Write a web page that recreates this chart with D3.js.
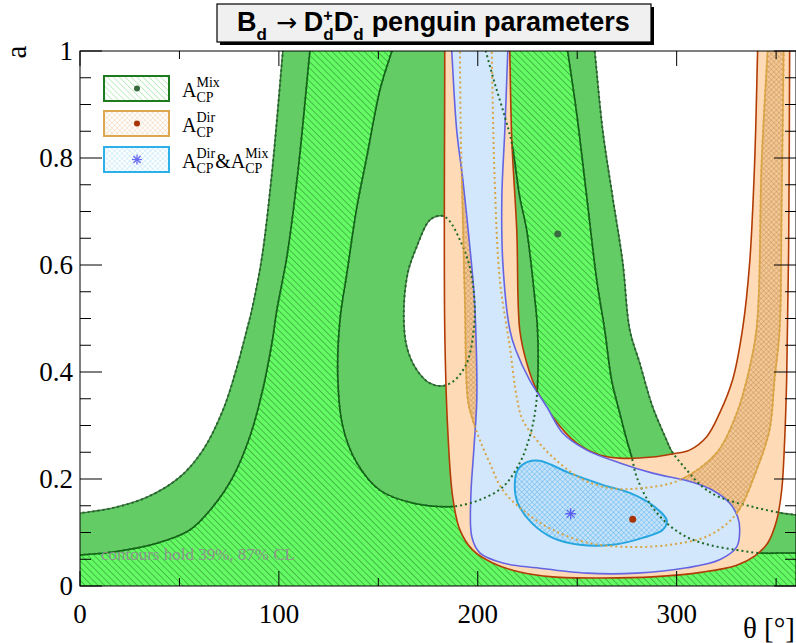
<!DOCTYPE html>
<html>
<head>
<meta charset="utf-8">
<script src="https://cdn.jsdelivr.net/npm/d3@7"></script>
<style>
  body { margin: 0; background: #fff; }
  svg { display: block; }
</style>
</head>
<body>
<div id="chart"></div>
<script>
// ---------- data (theta in degrees, a) ----------

// A_CP^Mix, outer (87%) contour pieces: white region at the left, the hole, white region at the right
var mixOuterLeft = [[102,1],[96.5,0.772],[91.5,0.615],[86.4,0.516],[83.9,0.479],[78.9,0.409],[71.9,0.329],[61.8,0.254],[50.3,0.204],[33.7,0.166],[16.6,0.146],[0,0.136]]
var mixOuterHole = [[181.9,0.692],[175.9,0.684],[169.3,0.634],[164.8,0.585],[162.8,0.510],[164.3,0.447],[169.3,0.404],[175.9,0.379],[182.4,0.374],[188.5,0.385],[194.5,0.417],[197.5,0.465],[198.5,0.521],[196.0,0.596],[191.0,0.647],[185.4,0.684]]
var mixOuterRight = [[258.8,1],[262.8,0.852],[267.8,0.727],[272.9,0.604],[276.4,0.479],[281.4,0.417],[287.9,0.335],[294.9,0.273],[297.5,0.252],[305.0,0.217],[313.1,0.185],[321.6,0.166],[338.2,0.148],[353.3,0.136],[360,0.133]]

// A_CP^Mix, inner (39%) contour pieces
var mixInnerA = [[0,0.058],[16.6,0.0636],[38.7,0.080],[55.3,0.105],[66.8,0.148],[76.9,0.204],[85.4,0.279],[91.5,0.361],[96.5,0.454],[99.0,0.516],[104.0,0.615],[109.5,0.772],[115.6,1]]
var mixInnerB = [[156.8,1],[150.8,0.927],[144.2,0.802],[139.2,0.708],[134.2,0.585],[130.7,0.497],[129.6,0.391],[132.2,0.297],[139.2,0.230],[150.8,0.179],[167.3,0.155],[184.4,0.148],[190.5,0.150],[201.0,0.161],[212.6,0.185],[221.1,0.230],[226.1,0.279],[229.0,0.330],[230.2,0.390],[230.0,0.482],[228.6,0.540],[224.6,0.665],[221.1,0.727],[217.1,0.828],[213.6,0.877],[208.5,0.940],[204.0,1]]
var mixInnerC = [[245.2,1],[249.7,0.884],[254.8,0.727],[259.8,0.572],[263.8,0.479],[267.3,0.385],[271.4,0.323],[274.9,0.273],[277.4,0.241],[279.9,0.204],[286.4,0.155],[294.9,0.118],[305.0,0.0916],[316.6,0.0766],[330.2,0.0673],[341.7,0.0617],[354.3,0.0617],[360,0.0617]]

// A_CP^Dir, outer (87%) contour: outer side and inner side of the U
var dirOuterA = [[183.4,1],[183.4,0.479],[184.9,0.292],[187.4,0.166],[191.0,0.105],[197.5,0.067],[207.5,0.043],[221.1,0.026],[237.7,0.017],[262.8,0.015],[287.9,0.017],[313.1,0.026],[330.2,0.039],[339.2,0.056],[345.7,0.080],[350.3,0.123],[352.8,0.179],[354.3,0.273],[355.3,0.385],[356.3,0.628],[356.8,1]]
var dirOuterB = [[340.7,1],[339.2,0.791],[336.7,0.604],[333.2,0.482],[328.1,0.385],[321.6,0.323],[315.1,0.279],[306.5,0.254],[298.0,0.247],[287.9,0.241],[271.4,0.239],[261.3,0.245],[249.7,0.267],[237.7,0.316],[229.6,0.366],[224.6,0.417],[221.1,0.479],[219.6,0.665],[217.1,0.834],[216.1,1]]

// A_CP^Dir, inner (39%) contour
var dirInnerA = [[191.0,1],[191.5,0.834],[192.0,0.759],[193.5,0.535],[195.0,0.348],[197.5,0.310],[201.0,0.273],[206.0,0.230],[212.6,0.179],[224.6,0.136],[237.7,0.105],[256.3,0.080],[276.4,0.073],[296.5,0.077],[316.6,0.095],[330.2,0.136],[340.2,0.217],[346.7,0.292],[349.2,0.385],[351.8,0.482],[352.8,0.720],[353.8,1]]
var dirInnerB = [[345.7,1],[342.7,0.791],[340.2,0.482],[335.2,0.385],[330.2,0.323],[320.1,0.249],[301.5,0.198],[282.9,0.183],[266.3,0.183],[251.3,0.202],[237.7,0.241],[229.6,0.273],[222.6,0.310],[219.6,0.353],[216.1,0.447],[211.1,0.572],[208.5,0.759],[207.0,1]]

// A_CP^Dir & A_CP^Mix combined
var bothOuter = [[186.9,1],[189.4,0.852],[192.5,0.759],[196.0,0.634],[198.0,0.553],[199.0,0.479],[199.5,0.348],[198.0,0.254],[196.5,0.166],[197.0,0.092],[201.0,0.062],[212.6,0.043],[229.6,0.034],[254.8,0.024],[279.9,0.024],[305.0,0.034],[321.6,0.049],[330.2,0.073],[331.7,0.105],[330.7,0.129],[326.6,0.155],[318.1,0.179],[308.0,0.194],[287.9,0.211],[271.4,0.230],[254.8,0.254],[242.7,0.286],[234.7,0.335],[226.1,0.385],[219.1,0.441],[216.1,0.479],[212.6,0.604],[212.1,0.727],[213.6,0.852],[215.1,1]]
var bothInner = [[225.1,0.232],[231.2,0.234],[246.2,0.211],[262.8,0.189],[276.4,0.174],[287.9,0.151],[295.0,0.123],[293.0,0.105],[282.9,0.090],[267.8,0.077],[251.3,0.077],[237.7,0.090],[227.1,0.118],[220.1,0.155],[218.6,0.189],[220.1,0.217]]

// best fit points
var mixBest = [240.2, 0.658]
var dirBest = [277.9, 0.125]
var bothBest = [246.7, 0.135]

// axes
var xMajor = [0, 100, 200, 300]
var xMinor = [50, 150, 250, 350]
var yMajor = [0, 0.2, 0.4, 0.6, 0.8, 1]
var yMajorLabels = ["0", "0.2", "0.4", "0.6", "0.8", "1"]
var yMinor = [0.05,0.1,0.15,0.25,0.3,0.35,0.45,0.5,0.55,0.65,0.7,0.75,0.85,0.9,0.95]

// ---------- layout ----------
// (note: "top" is taken by window.top, so the frame edges get their own names)
var width = 796, height = 643
var frameL = 80, frameR = 796, frameT = 51, frameB = 586
var serif = "'Liberation Serif', 'DejaVu Serif', serif"
var sans = "'Liberation Sans', Arial, sans-serif"

var x = d3.scaleLinear().domain([0, 360]).range([frameL, frameR])
var y = d3.scaleLinear().domain([0, 1]).range([frameB, frameT])

var svg = d3.select("#chart").append("svg")
  .attr("width", width)
  .attr("height", height)

var defs = svg.append("defs")

defs.append("clipPath").attr("id", "frameClip")
  .append("rect")
  .attr("x", frameL).attr("y", frameT)
  .attr("width", frameR - frameL).attr("height", frameB - frameT)

// hatch patterns: single "\\" lines or a cross-hatch
function makePattern(id, bg, color, size, sw, cross){
  var p = defs.append("pattern")
    .attr("id", id)
    .attr("patternUnits", "userSpaceOnUse")
    .attr("width", size).attr("height", size)
    .attr("patternTransform", cross ? "rotate(45)" : "rotate(-45)")
  p.append("rect").attr("width", size).attr("height", size).attr("fill", bg)
  p.append("line").attr("x1", 0).attr("y1", 0).attr("x2", 0).attr("y2", size)
    .attr("stroke", color).attr("stroke-width", sw)
  if (cross){
    p.append("line").attr("x1", 0).attr("y1", 0).attr("x2", size).attr("y2", 0)
      .attr("stroke", color).attr("stroke-width", sw)
  }
}
makePattern("hatchMix", "#64fa64", "#237023", 4.6, 0.9, false)
makePattern("hatchDir", "#f2c896", "#c38a4a", 3.6, 0.8, true)
makePattern("hatchBoth", "#c7e3fa", "#58b4ee", 3.6, 0.9, true)
// lighter versions for the legend
makePattern("legMix", "#ffffff", "#8fe08f", 4.2, 1, false)
makePattern("legDir", "#ffffff", "#ecc9a0", 3.6, 0.8, true)
makePattern("legBoth", "#ffffff", "#a6dcf7", 3.6, 0.8, true)

var curve = d3.curveCatmullRom.alpha(0.5)
var line = d3.line().x(function(d){ return x(d[0]) }).y(function(d){ return y(d[1]) }).curve(curve)
var closedLine = d3.line().x(function(d){ return x(d[0]) }).y(function(d){ return y(d[1]) }).curve(d3.curveCatmullRomClosed.alpha(0.5))
var straight = d3.line().x(function(d){ return x(d[0]) }).y(function(d){ return y(d[1]) })

// a contour that ends on the frame is pushed a bit past it, along its own
// direction, so the curve keeps its shape up to the edge (the clip cuts the rest)
function ext(c){
  var n = c.length
  var a = c[0], b = c[1], p = c[n-1], q = c[n-2]
  return [[a[0] + (a[0]-b[0])*0.5, a[1] + (a[1]-b[1])*0.5]]
    .concat(c, [[p[0] + (p[0]-q[0])*0.5, p[1] + (p[1]-q[1])*0.5]])
}

// closes a list of contour pieces (plus corner points outside the frame) into one area
function area(pieces){
  var pts = []
  pieces.forEach(function(p){
    p.forEach(function(d){ pts.push(d) })
  })
  return closedLine(pts)
}

var plot = svg.append("g").attr("clip-path", "url(#frameClip)")

// ---------- A_CP^Mix ----------
// 87% region: whole frame minus the white parts
var mixOuterPath = straight([[-10,-0.2],[370,-0.2],[370,1.2],[-10,1.2]]) + "Z" +
  area([ext(mixOuterLeft), [[-10,1.2]]]) +
  closedLine(mixOuterHole) +
  area([ext(mixOuterRight), [[370,1.2]]])

plot.append("path")
  .attr("d", mixOuterPath)
  .attr("fill-rule", "evenodd")
  .style("fill", "#64cc64")

// 39% region
plot.append("path")
  .attr("d", area([ext(mixInnerA), ext(mixInnerB), ext(mixInnerC), [[370,-0.2],[-10,-0.2]]]))
  .style("fill", "url(#hatchMix)")

// solid contour lines
;[mixOuterLeft, mixOuterRight].forEach(function(c){
  plot.append("path").attr("d", line(ext(c)))
    .style("fill", "none").style("stroke", "#3d6e3d").style("stroke-width", 1.4)
})
plot.append("path").attr("d", closedLine(mixOuterHole))
  .style("fill", "none").style("stroke", "#3d6e3d").style("stroke-width", 1.4)
;[mixInnerA, mixInnerB, mixInnerC].forEach(function(c){
  plot.append("path").attr("d", line(ext(c)))
    .style("fill", "none").style("stroke", "#0b5e0b").style("stroke-width", 1.5)
})

// ---------- A_CP^Dir ----------
plot.append("path")
  .attr("d", area([ext(dirOuterA), ext(dirOuterB)]))
  .style("fill", "#fedbb6")
;[dirOuterA, dirOuterB].forEach(function(c){
  plot.append("path").attr("d", line(ext(c)))
    .style("fill", "none").style("stroke", "#b23c06").style("stroke-width", 1.6)
})

plot.append("path")
  .attr("d", area([ext(dirInnerA), ext(dirInnerB)]))
  .style("fill", "url(#hatchDir)")
;[dirInnerA, dirInnerB].forEach(function(c){
  plot.append("path").attr("d", line(ext(c)))
    .style("fill", "none").style("stroke", "#d9a446").style("stroke-width", 1.5)
})

// ---------- combined ----------
plot.append("path")
  .attr("d", area([ext(bothOuter)]))
  .style("fill", "#d2e7fb")
  .style("stroke", "none")
plot.append("path").attr("d", line(ext(bothOuter)))
  .style("fill", "none").style("stroke", "#6464e2").style("stroke-width", 1.6)

plot.append("path")
  .attr("d", closedLine(bothInner))
  .style("fill", "url(#hatchBoth)")
  .style("stroke", "#27a6e0")
  .style("stroke-width", 2)

// ---------- dotted overlays of the single constraints ----------
;[mixOuterLeft, mixOuterRight, mixInnerA, mixInnerB, mixInnerC].forEach(function(c){
  plot.append("path").attr("d", line(ext(c)))
    .style("fill", "none").style("stroke", "#1f6a2a").style("stroke-width", 2)
    .style("stroke-dasharray", "2,3")
})
plot.append("path").attr("d", closedLine(mixOuterHole))
  .style("fill", "none").style("stroke", "#1f6a2a").style("stroke-width", 2)
  .style("stroke-dasharray", "2,3")
;[dirInnerA, dirInnerB].forEach(function(c){
  plot.append("path").attr("d", line(ext(c)))
    .style("fill", "none").style("stroke", "#d9a446").style("stroke-width", 2)
    .style("stroke-dasharray", "2,3")
})

// ---------- best fit markers ----------
plot.append("circle")
  .attr("cx", x(mixBest[0])).attr("cy", y(mixBest[1])).attr("r", 3.5)
  .style("fill", "#3a6b40")
plot.append("circle")
  .attr("cx", x(dirBest[0])).attr("cy", y(dirBest[1])).attr("r", 3.5)
  .style("fill", "#a83406")

function drawStar(g, cx, cy, r, color){
  for (var k = 0; k < 4; k++){
    var ang = k * Math.PI / 4
    g.append("line")
      .attr("x1", cx - r*Math.cos(ang)).attr("y1", cy - r*Math.sin(ang))
      .attr("x2", cx + r*Math.cos(ang)).attr("y2", cy + r*Math.sin(ang))
      .style("stroke", color).style("stroke-width", 1.3)
  }
}
drawStar(plot, x(bothBest[0]), y(bothBest[1]), 5.5, "#5a5af0")

// note
plot.append("text")
  .attr("x", x(10.5)).attr("y", y(0.048))
  .style("font-family", serif).style("font-size", "17px")
  .style("fill", "#8f938f")
  .text("contours hold 39%, 87% CL")

// ---------- frame, ticks, labels ----------
var axes = svg.append("g").style("stroke", "#000").style("stroke-width", 1)

axes.append("rect")
  .attr("x", frameL).attr("y", frameT)
  .attr("width", frameR - frameL).attr("height", frameB - frameT)
  .style("fill", "none")

xMajor.forEach(function(v){
  axes.append("line").attr("x1", x(v)).attr("x2", x(v)).attr("y1", frameB).attr("y2", frameB - 15)
  axes.append("line").attr("x1", x(v)).attr("x2", x(v)).attr("y1", frameT).attr("y2", frameT + 15)
})
xMinor.forEach(function(v){
  axes.append("line").attr("x1", x(v)).attr("x2", x(v)).attr("y1", frameB).attr("y2", frameB - 8)
  axes.append("line").attr("x1", x(v)).attr("x2", x(v)).attr("y1", frameT).attr("y2", frameT + 8)
})
yMajor.forEach(function(v){
  axes.append("line").attr("x1", frameL).attr("x2", frameL + 22).attr("y1", y(v)).attr("y2", y(v))
  axes.append("line").attr("x1", frameR).attr("x2", frameR - 22).attr("y1", y(v)).attr("y2", y(v))
})
yMinor.forEach(function(v){
  axes.append("line").attr("x1", frameL).attr("x2", frameL + 11).attr("y1", y(v)).attr("y2", y(v))
  axes.append("line").attr("x1", frameR).attr("x2", frameR - 11).attr("y1", y(v)).attr("y2", y(v))
})

var labels = svg.append("g").style("font-family", serif).style("fill", "#000")

xMajor.forEach(function(v){
  labels.append("text")
    .attr("x", x(v)).attr("y", 623)
    .attr("text-anchor", "middle")
    .style("font-size", "27px")
    .text(v)
})
yMajor.forEach(function(v, i){
  labels.append("text")
    .attr("x", 73).attr("y", y(v) + 9)
    .attr("text-anchor", "end")
    .style("font-size", "27px")
    .text(yMajorLabels[i])
})

labels.append("text")
  .attr("transform", "translate(26,52) rotate(-90)")
  .attr("text-anchor", "middle")
  .style("font-size", "29px")
  .text("a")

labels.append("text")
  .attr("x", 795).attr("y", 638)
  .attr("text-anchor", "end")
  .style("font-size", "29px")
  .text("θ [°]")

// ---------- rich text helper (sub/superscripts) ----------
// pieces are laid out left to right; a piece with stack:true starts where the previous one started
function richText(g, x0, y0, pieces, family, weight){
  var cx = x0, start = x0
  pieces.forEach(function(p){
    var px = p.stack ? start : cx
    var t = g.append("text")
      .attr("x", px).attr("y", y0 + (p.dy || 0))
      .style("font-family", p.family || family)
      .style("font-weight", p.weight || weight)
      .style("font-size", p.size + "px")
      .text(p.t)
    var w = t.node().getComputedTextLength()
    if (p.stack){
      cx = Math.max(cx, px + w) + (p.gap || 0)
    } else {
      start = px
      cx = px + w + (p.gap || 0)
    }
  })
}

// ---------- legend ----------
var legend = svg.append("g")
var legendItems = [
  {fill: "url(#legMix)", stroke: "#1e7a1e", y: 76, sup: "Mix"},
  {fill: "url(#legDir)", stroke: "#dda74f", y: 111, sup: "Dir"},
  {fill: "url(#legBoth)", stroke: "#2bb0ea", y: 147, sup: "Dir"}
]
legendItems.forEach(function(d, i){
  legend.append("rect")
    .attr("x", 104).attr("y", d.y)
    .attr("width", 65).attr("height", 25)
    .style("fill", d.fill).style("stroke", d.stroke).style("stroke-width", 2)
  var base = d.y + 21
  var pieces = [
    {t: "A", size: 20},
    {t: d.sup, size: 14, dy: -10},
    {t: "CP", size: 14, dy: 5, stack: true}
  ]
  if (i == 2){
    pieces.push({t: "&", size: 20})
    pieces.push({t: "A", size: 20})
    pieces.push({t: "Mix", size: 14, dy: -10})
    pieces.push({t: "CP", size: 14, dy: 5, stack: true})
  }
  richText(legend, 182, base, pieces, serif, "normal")
})
legend.append("circle").attr("cx", 137).attr("cy", 88.5).attr("r", 3).style("fill", "#3a6b40")
legend.append("circle").attr("cx", 137).attr("cy", 123.5).attr("r", 3).style("fill", "#a83406")
drawStar(legend, 137, 159.5, 5, "#6a6af2")

// ---------- title ----------
var title = svg.append("g")
title.append("rect")
  .attr("x", 220).attr("y", 7).attr("width", 434).attr("height", 38)
  .style("fill", "#000")
title.append("rect")
  .attr("x", 217).attr("y", 4).attr("width", 434).attr("height", 38)
  .style("fill", "#f0f0f0").style("stroke", "#000").style("stroke-width", 1.2)

richText(title, 237, 31, [
  {t: "B", size: 27},
  {t: "d", size: 17, dy: 9, gap: 9},
  {t: "\u2192", size: 25, weight: "normal", family: "'DejaVu Sans', sans-serif", gap: 7},
  {t: "D", size: 27},
  {t: "+", size: 16, dy: -10},
  {t: "d", size: 17, dy: 9, stack: true},
  {t: "D", size: 27},
  {t: "-", size: 16, dy: -10},
  {t: "d", size: 17, dy: 9, stack: true, gap: 8},
  {t: "penguin parameters", size: 27}
], sans, "bold")
</script>
</body>
</html>
